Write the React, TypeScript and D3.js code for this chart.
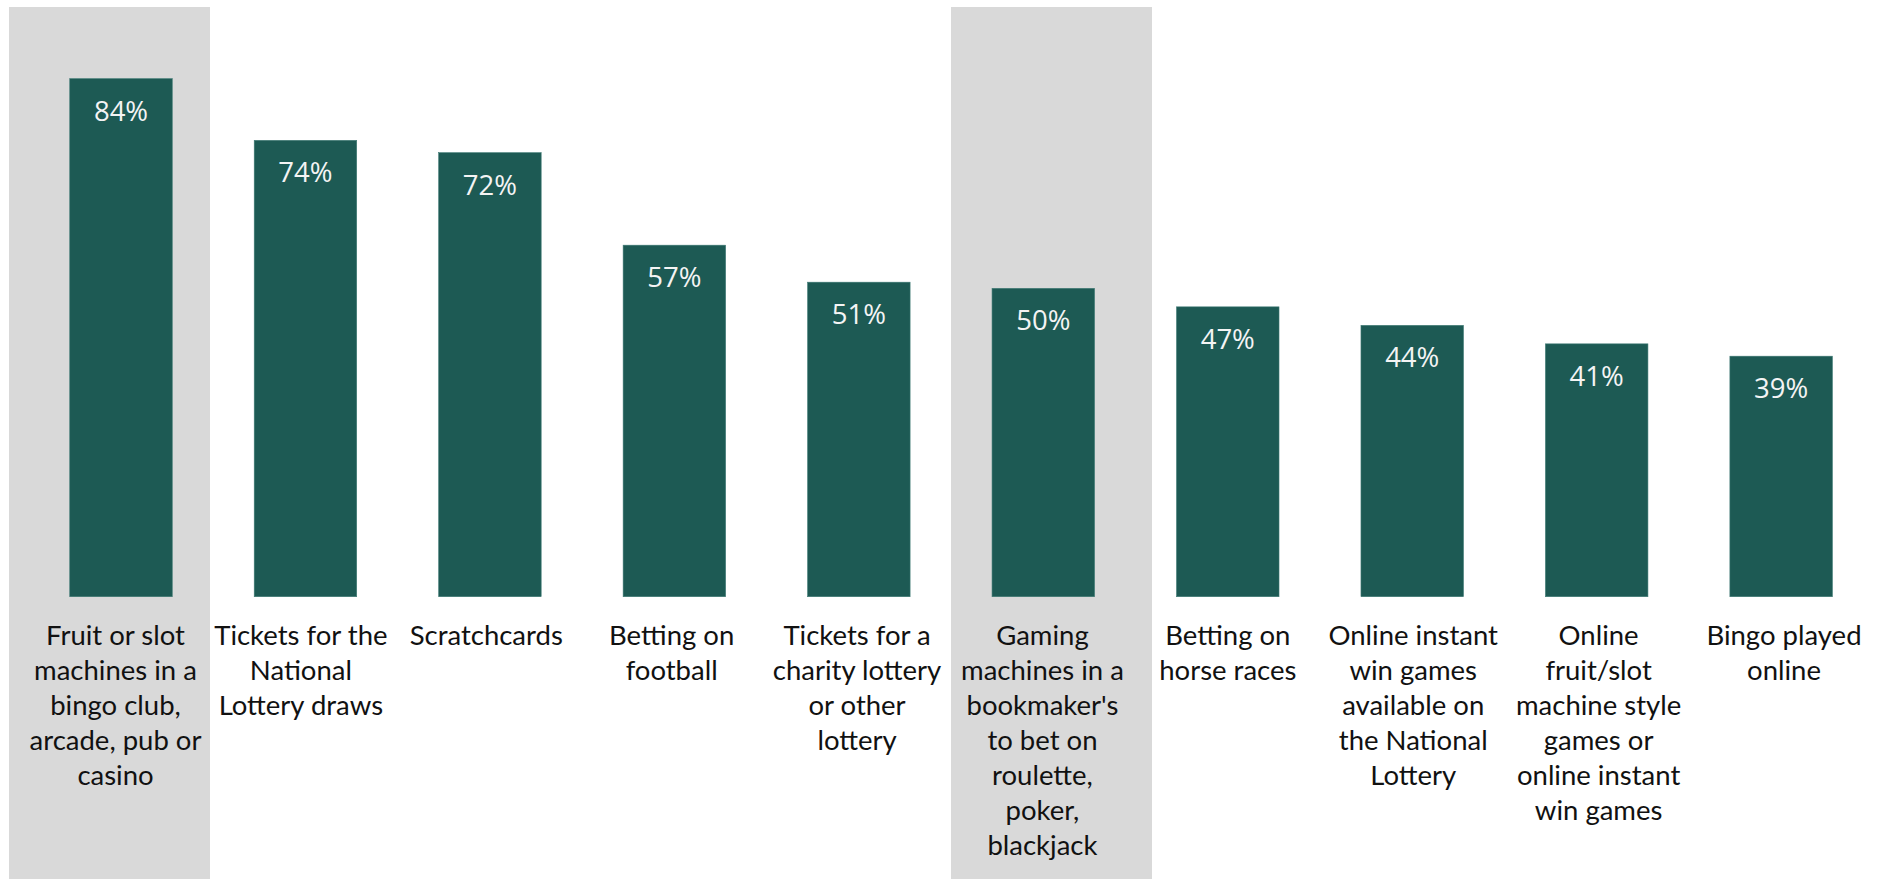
import React from "react";
import * as d3 from "d3";

const categories: string[] = [
  "Fruit or slot machines in a bingo club, arcade, pub or casino",
  "Tickets for the National Lottery draws",
  "Scratchcards",
  "Betting on football",
  "Tickets for a charity lottery or other lottery",
  "Gaming machines in a bookmaker's to bet on roulette, poker, blackjack",
  "Betting on horse races",
  "Online instant win games available on the National Lottery",
  "Online fruit/slot machine style games or online instant win games",
  "Bingo played online",
];

const labelLines: string[][] = [
  ["Fruit or slot", "machines in a", "bingo club,", "arcade, pub or", "casino"],
  ["Tickets for the", "National", "Lottery draws"],
  ["Scratchcards"],
  ["Betting on", "football"],
  ["Tickets for a", "charity lottery", "or other", "lottery"],
  ["Gaming", "machines in a", "bookmaker's", "to bet on", "roulette,", "poker,", "blackjack"],
  ["Betting on", "horse races"],
  ["Online instant", "win games", "available on", "the National", "Lottery"],
  ["Online", "fruit/slot", "machine style", "games or", "online instant", "win games"],
  ["Bingo played", "online"],
];

const values: number[] = [84, 74, 72, 57, 51, 50, 47, 44, 41, 39];

const highlighted: string[] = [categories[0], categories[5]];

const W = 1877;
const H = 879;

export default function App() {
  const step = 184.46;
  const barW = 102.5;
  const x = d3
    .scaleBand<string>()
    .domain(categories)
    .range([121 - step / 2, 121 - step / 2 + step * categories.length])
    .paddingInner(1 - barW / step)
    .paddingOuter((1 - barW / step) / 2);

  const bandX = d3
    .scalePoint<string>()
    .domain(categories)
    .range([9, 9 + 9 * 188.4]);
  const bandW = 201;

  const labelX = d3
    .scalePoint<string>()
    .domain(categories)
    .range([115.5, 1784]);

  const y = d3.scaleLinear().domain([0, 100]).range([596.7, 596.7 - 616.7]);

  const fmt = (v: number) => `${v}%`;

  return (
    <svg
      width={W}
      height={H}
      style={{ position: "absolute", left: 0, top: 0, background: "#ffffff" }}
    >
      {highlighted.map((c) => (
        <rect
          key={"bg" + c}
          x={bandX(c)!}
          y={7}
          width={bandW}
          height={H - 7}
          fill="#d9d9d9"
        />
      ))}
      {categories.map((c, i) => (
        <g key={c}>
          <rect
            x={x(c)!}
            y={y(values[i])}
            width={x.bandwidth()}
            height={y(0) - y(values[i])}
            fill="#1d5a54"
            stroke="#3f7a74"
            strokeWidth={0.6}
          />
          <text
            x={x(c)! + x.bandwidth() / 2}
            y={y(values[i]) + 42}
            textAnchor="middle"
            fontFamily="'Open Sans', sans-serif"
            fontSize={27.5}
            fill="#f4f4f4"
          >
            {fmt(values[i])}
          </text>
          <text
            textAnchor="middle"
            fontFamily="Lato, 'Noto Sans', sans-serif"
            fontSize={27.5}
            fill="#111111"
          >
            {labelLines[i].map((ln, j) => (
              <tspan key={j} x={labelX(c)!} y={645 + j * 35}>
                {ln}
              </tspan>
            ))}
          </text>
        </g>
      ))}
    </svg>
  );
}
